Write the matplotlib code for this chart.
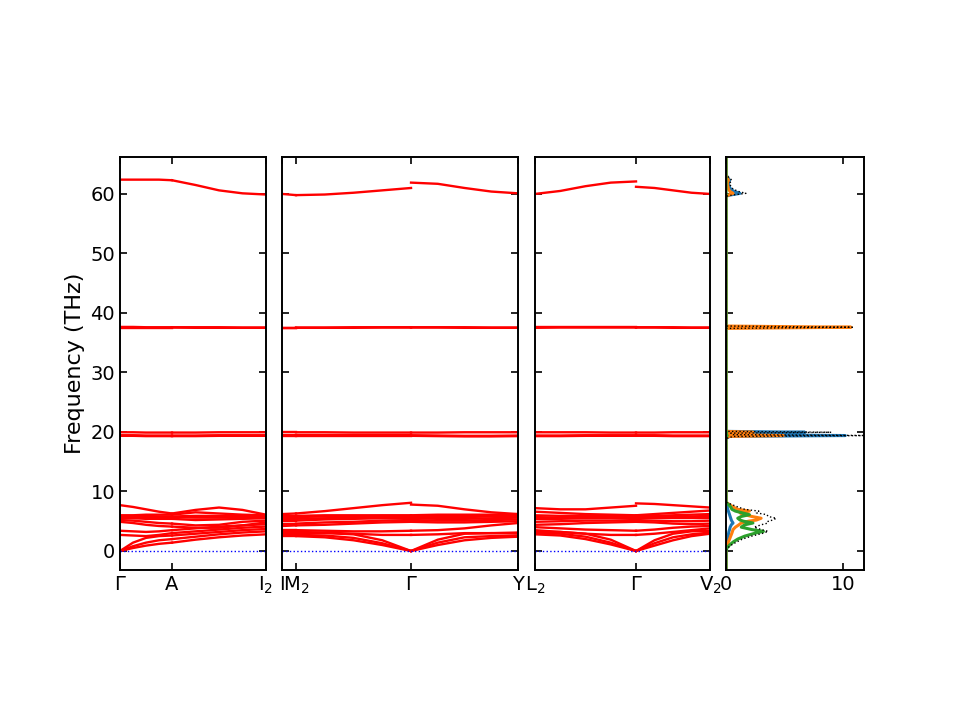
"""
Phonon band structure + projected DOS (phonopy-style layout).
Values read off the reference picture.
"""

import numpy as np
import matplotlib
matplotlib.use('Agg')
import matplotlib.pyplot as plt

# path segments: (start label, end label, length)
segment_lengths = [0.052, 0.094, 0.014, 0.115, 0.107, 0.101, 0.074]
panel_segments = [[0, 1], [2, 3, 4], [5, 6]]
panel_labels = [
    ['$\\Gamma$', 'A', 'I$_2$'],
    ['I', 'M$_2$', '$\\Gamma$', 'Y'],
    ['L$_2$', '$\\Gamma$', 'V$_2$'],
]

# band frequencies (THz) per segment, one row per band, samples along the segment
seg_G_A = [
    [0.0, 0.5, 0.9, 1.2, 1.4],
    [0.0, 0.8, 1.4, 1.8, 2.0],
    [0.0, 1.4, 2.2, 2.5, 2.6],
    [2.7, 2.6, 2.5, 2.7, 3.0],
    [3.4, 3.3, 3.2, 3.3, 3.5],
    [4.9, 4.7, 4.4, 4.2, 4.1],
    [5.2, 5.1, 4.9, 4.7, 4.6],
    [5.5, 5.5, 5.4, 5.4, 5.4],
    [5.6, 5.6, 5.7, 5.7, 5.7],
    [5.9, 5.9, 5.9, 5.8, 5.8],
    [6.0, 6.0, 6.1, 6.1, 6.1],
    [7.7, 7.4, 7.0, 6.6, 6.3],
    [19.35, 19.35, 19.3, 19.3, 19.3],
    [19.45, 19.45, 19.4, 19.4, 19.4],
    [19.95, 19.95, 19.9, 19.9, 19.9],
    [37.55, 37.55, 37.55, 37.55, 37.55],
    [37.65, 37.65, 37.6, 37.6, 37.6],
    [62.4, 62.4, 62.4, 62.4, 62.3],
]
seg_A_I2 = [
    [1.4, 1.9, 2.3, 2.6, 2.8],
    [2.0, 2.4, 2.8, 3.1, 3.3],
    [2.6, 2.9, 3.2, 3.5, 3.7],
    [3.0, 3.3, 3.6, 3.9, 4.1],
    [3.5, 3.8, 4.1, 4.3, 4.5],
    [4.1, 3.9, 3.9, 4.3, 4.8],
    [4.6, 4.3, 4.4, 4.9, 5.1],
    [5.4, 5.2, 5.3, 5.4, 5.5],
    [5.7, 5.6, 5.6, 5.7, 5.7],
    [5.8, 5.9, 5.9, 5.9, 5.9],
    [6.1, 6.5, 6.3, 6.1, 6.0],
    [6.3, 6.9, 7.3, 6.9, 6.1],
    [19.3, 19.3, 19.35, 19.35, 19.35],
    [19.4, 19.4, 19.45, 19.45, 19.45],
    [19.9, 19.9, 19.95, 19.95, 19.95],
    [37.55, 37.5, 37.5, 37.5, 37.5],
    [37.6, 37.6, 37.6, 37.55, 37.55],
    [62.3, 61.5, 60.6, 60.1, 59.9],
]
seg_I_M2 = [
    [2.5, 2.5], [2.7, 2.7], [3.0, 3.0], [3.2, 3.2], [3.5, 3.5],
    [4.2, 4.3], [4.6, 4.6], [5.1, 5.1], [5.4, 5.4], [5.7, 5.7],
    [5.9, 5.9], [6.2, 6.3],
    [19.35, 19.35], [19.45, 19.45], [19.95, 19.95],
    [37.5, 37.5], [37.55, 37.55],
    [60.0, 59.8],
]
seg_M2_G = [
    [2.5, 2.3, 1.8, 1.0, 0.0],
    [2.7, 2.6, 2.2, 1.3, 0.0],
    [3.0, 3.0, 2.8, 1.8, 0.0],
    [3.2, 3.1, 2.9, 2.7, 2.7],
    [3.5, 3.4, 3.3, 3.3, 3.4],
    [4.3, 4.4, 4.6, 4.8, 4.9],
    [4.6, 4.8, 4.9, 5.1, 5.2],
    [5.1, 5.3, 5.4, 5.5, 5.5],
    [5.4, 5.5, 5.6, 5.6, 5.6],
    [5.7, 5.8, 5.8, 5.9, 5.9],
    [5.9, 6.0, 6.0, 6.0, 6.0],
    [6.3, 6.7, 7.2, 7.7, 8.1],
    [19.35, 19.35, 19.35, 19.35, 19.35],
    [19.45, 19.45, 19.45, 19.45, 19.45],
    [19.95, 19.95, 19.9, 19.9, 19.9],
    [37.5, 37.5, 37.5, 37.55, 37.55],
    [37.55, 37.55, 37.6, 37.6, 37.6],
    [59.8, 59.9, 60.2, 60.6, 61.0],
]
seg_G_Y = [
    [0.0, 1.0, 1.8, 2.2, 2.4],
    [0.0, 1.4, 2.3, 2.5, 2.5],
    [0.0, 1.9, 2.9, 3.0, 2.9],
    [2.7, 2.8, 3.0, 3.0, 3.1],
    [3.4, 3.5, 3.8, 4.3, 4.7],
    [4.9, 4.8, 4.8, 4.9, 5.0],
    [5.2, 5.1, 5.1, 5.2, 5.3],
    [5.5, 5.4, 5.4, 5.5, 5.6],
    [5.6, 5.7, 5.7, 5.8, 5.8],
    [5.9, 5.9, 5.9, 6.0, 6.0],
    [6.0, 6.1, 6.1, 6.1, 6.2],
    [7.8, 7.6, 7.0, 6.5, 6.2],
    [19.35, 19.3, 19.25, 19.25, 19.3],
    [19.45, 19.4, 19.35, 19.35, 19.4],
    [19.9, 19.9, 19.95, 19.95, 19.95],
    [37.55, 37.55, 37.5, 37.5, 37.5],
    [37.6, 37.6, 37.6, 37.55, 37.55],
    [61.9, 61.7, 61.0, 60.4, 60.1],
]
seg_L2_G = [
    [2.8, 2.6, 2.0, 1.1, 0.0],
    [3.0, 2.9, 2.4, 1.4, 0.0],
    [3.2, 3.2, 2.9, 1.9, 0.0],
    [3.5, 3.2, 2.9, 2.7, 2.7],
    [4.0, 3.8, 3.6, 3.5, 3.4],
    [4.4, 4.5, 4.7, 4.8, 4.9],
    [4.9, 5.0, 5.1, 5.1, 5.2],
    [5.4, 5.4, 5.5, 5.5, 5.5],
    [5.7, 5.6, 5.6, 5.6, 5.6],
    [6.0, 5.9, 5.9, 5.9, 5.9],
    [6.6, 6.4, 6.2, 6.1, 6.0],
    [7.2, 7.0, 7.0, 7.3, 7.6],
    [19.3, 19.3, 19.35, 19.35, 19.35],
    [19.4, 19.4, 19.45, 19.45, 19.45],
    [19.95, 19.95, 19.95, 19.9, 19.9],
    [37.5, 37.55, 37.55, 37.55, 37.55],
    [37.6, 37.6, 37.6, 37.6, 37.6],
    [60.0, 60.5, 61.3, 61.9, 62.1],
]
seg_G_V2 = [
    [0.0, 0.9, 1.8, 2.5, 2.9],
    [0.0, 1.3, 2.3, 2.8, 3.1],
    [0.0, 1.8, 2.9, 3.3, 3.4],
    [2.7, 2.9, 3.2, 3.5, 3.8],
    [3.4, 3.6, 3.9, 4.1, 4.2],
    [4.9, 4.8, 4.6, 4.5, 4.6],
    [5.2, 5.1, 5.0, 5.0, 5.1],
    [5.5, 5.5, 5.5, 5.5, 5.5],
    [5.6, 5.7, 5.8, 5.8, 5.9],
    [5.9, 5.9, 6.0, 6.1, 6.2],
    [6.0, 6.2, 6.4, 6.6, 6.8],
    [8.0, 7.9, 7.7, 7.5, 7.3],
    [19.35, 19.35, 19.3, 19.3, 19.3],
    [19.45, 19.45, 19.4, 19.4, 19.4],
    [19.9, 19.9, 19.95, 19.95, 19.95],
    [37.55, 37.55, 37.5, 37.5, 37.5],
    [37.6, 37.6, 37.6, 37.55, 37.55],
    [61.2, 61.0, 60.6, 60.2, 60.0],
]
segments = [seg_G_A, seg_A_I2, seg_I_M2, seg_M2_G, seg_G_Y, seg_L2_G, seg_G_V2]

# projected DOS (states/THz) vs frequency (THz)
dos_freq = [-3.0, 0.0, 0.5, 1.0, 1.5, 2.0, 2.5, 3.0, 3.3, 3.6, 4.0, 4.4, 4.7,
            5.0, 5.2, 5.5, 5.8, 6.1, 6.4, 6.7, 7.0, 7.4, 7.8, 8.2,
            18.9, 19.25, 19.4, 19.55, 19.8, 19.95, 20.1,
            37.4, 37.6, 37.8,
            59.6, 59.8, 60.1, 60.4, 60.8, 61.3, 61.8, 62.3, 63.2, 66.5]
pdos_1 = [0, 0, 0.02, 0.05, 0.08, 0.12, 0.18, 0.22, 0.25, 0.3, 0.35, 0.45, 0.6,
          0.5, 0.45, 0.4, 0.35, 0.3, 0.25, 0.2, 0.15, 0.1, 0.05, 0,
          0, 0.3, 10.2, 0.3, 0.2, 6.75, 0,
          0, 0.2, 0,
          0, 0.3, 1.2, 0.7, 0.4, 0.25, 0.2, 0.3, 0, 0]
pdos_2 = [0, 0, 0.03, 0.1, 0.2, 0.3, 0.4, 0.5, 0.55, 0.6, 0.8, 1.1, 1.3,
          1.9, 2.6, 3.0, 2.2, 1.6, 1.2, 2.0, 1.0, 0.6, 0.3, 0,
          0, 0.2, 4.9, 0.2, 0.1, 2.3, 0,
          0, 10.7, 0,
          0, 0.2, 0.6, 0.35, 0.2, 0.15, 0.1, 0.2, 0, 0]
pdos_3 = [0, 0, 0.08, 0.3, 0.6, 1.0, 1.6, 2.5, 3.2, 2.2, 1.3, 1.6, 2.3,
          1.5, 1.2, 1.0, 1.3, 2.0, 1.4, 0.8, 0.5, 0.4, 0.2, 0,
          0, 0, 0.1, 0, 0, 0.05, 0,
          0, 0, 0,
          0, 0, 0, 0, 0, 0, 0, 0, 0, 0]
dos_total = [0, 0, 0.13, 0.45, 0.9, 1.4, 2.2, 3.2, 3.6, 3.0, 2.4, 3.0, 3.6,
             3.6, 4.0, 4.3, 3.6, 3.5, 2.6, 2.8, 1.6, 1.0, 0.5, 0,
             0, 0.6, 12.5, 0.6, 0.4, 9.0, 0,
             0, 10.8, 0,
             0, 0.5, 1.7, 1.1, 0.6, 0.4, 0.3, 0.5, 0, 0]

ylim = (-3.2, 66.2)
yticks = [0, 10, 20, 30, 40, 50, 60]
dos_xticks = [0, 10]
dos_xlim = (0, 11.8)

plt.rcParams['font.size'] = 14

fig = plt.figure(figsize=(9.6, 7.2), dpi=100)
panel_rects = [
    [0.1250, 0.2083, 0.1521, 0.5736],
    [0.2938, 0.2083, 0.2458, 0.5736],
    [0.5573, 0.2083, 0.1823, 0.5736],
]
dos_rect = [0.7563, 0.2083, 0.1437, 0.5736]


def style_axis(ax):
    ax.tick_params(direction='in', top=True, right=True, length=5,
                   width=1.2, labelsize=14)
    for sp in ax.spines.values():
        sp.set_linewidth(1.4)


band_axes = []
for p, segs in enumerate(panel_segments):
    ax = fig.add_axes(panel_rects[p])
    x0 = 0.0
    ticks = [0.0]
    for s in segs:
        data = np.array(segments[s])
        length = segment_lengths[s]
        xs = np.linspace(x0, x0 + length, data.shape[1])
        for band in data:
            ax.plot(xs, band, 'r-', lw=1.7)
        x0 += length
        ticks.append(x0)
    ax.axhline(0, color='b', ls=':', lw=1.0)
    ax.set_xlim(0, x0)
    ax.set_ylim(*ylim)
    ax.set_xticks(ticks)
    ax.set_xticklabels(panel_labels[p])
    ax.set_yticks(yticks)
    if p > 0:
        ax.set_yticklabels([])
    style_axis(ax)
    band_axes.append(ax)

band_axes[0].set_ylabel('Frequency (THz)', fontsize=16)

ax_dos = fig.add_axes(dos_rect)
ax_dos.plot(pdos_1, dos_freq, color='C0', lw=2.2)
ax_dos.plot(pdos_2, dos_freq, color='C1', lw=2.2)
ax_dos.plot(pdos_3, dos_freq, color='C2', lw=2.2)
ax_dos.plot(dos_total, dos_freq, 'k:', lw=1.0)
ax_dos.set_xlim(*dos_xlim)
ax_dos.set_ylim(*ylim)
ax_dos.set_xticks(dos_xticks)
ax_dos.set_yticks(yticks)
ax_dos.set_yticklabels([])
style_axis(ax_dos)

fig.savefig('out.png', dpi=100)
